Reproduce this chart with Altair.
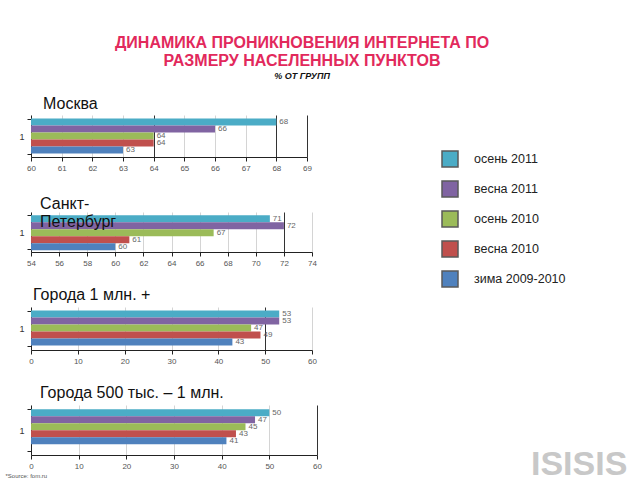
import altair as alt
import pandas as pd

series = ["осень 2011", "весна 2011", "осень 2010", "весна 2010", "зима 2009-2010"]
colors = ["#4BACC6", "#8064A2", "#9BBB59", "#C0504D", "#4F81BD"]

moscow = [68, 66, 64, 64, 63]
spb = [71, 72, 67, 61, 60]
city_1m = [53, 53, 47, 49, 43]
city_500k = [50, 47, 45, 43, 41]

panel_titles = [["Москва"], ["Санкт-", "Петербург"], ["Города 1 млн. +"], ["Города 500 тыс. – 1 млн."]]
domains = [[60, 69], [54, 74], [0, 60], [0, 60]]
tick_values = [list(range(60, 70, 1)), list(range(54, 75, 2)), list(range(0, 61, 10)), list(range(0, 61, 10))]
dark_grid = [[64, 68, 69], [72], [50], [60]]
values = [moscow, spb, city_1m, city_500k]

widths = [276, 281, 281, 286]
heights = [42, 40, 43, 50]
title_dx = [12, 9, 2, 9]
title_offset = [-1, -22, 0, 0]

FONT = "Liberation Sans"

panels = []
for i in range(4):
    df = pd.DataFrame({
        "series": series,
        "value": values[i],
        "grp": ["1"] * 5,
        "base": [domains[i][0]] * 5,
    })
    grid_test = " || ".join(f"datum.value == {v}" for v in dark_grid[i])
    x_axis = dict(
        values=tick_values[i], grid=True, gridColor={"condition": {"test": grid_test, "value": "#333333"}, "value": "#d4d4d4"},
        domainColor="#222", tickColor="#222", tickSize=4, labelFontSize=8, labelColor="#555",
        labelFont=FONT, labelPadding=3, title=None, labelOverlap=False, labelFlush=False,
    )
    if i == 3:
        x_axis.update(title="*Source: fom.ru", titleFontSize=6, titleFontWeight="normal", titleColor="#555",
                      titleAnchor="start", titleAlign="left", titleX=-26, titleY=17, titleBaseline="top", titleFont=FONT)
    x = alt.X("value:Q", scale=alt.Scale(domain=domains[i], nice=False, zero=False), axis=alt.Axis(**x_axis))
    y = alt.Y("grp:N", scale=alt.Scale(paddingOuter=0.1, paddingInner=0),
              axis=alt.Axis(title=None, tickBand="extent", domainColor="#222", tickColor="#222", tickSize=4,
                            labelFontSize=9, labelColor="#333", labelFont=FONT, labelPadding=3))
    yo = alt.YOffset("series:N", sort=series, scale=alt.Scale(paddingInner=0, paddingOuter=0))
    color = alt.Color("series:N", sort=series, scale=alt.Scale(domain=series, range=colors),
                      legend=alt.Legend(title=None, orient="none", legendX=410, legendY=35, symbolType="square",
                                        symbolSize=256, symbolStrokeColor="#5a5a5a", symbolStrokeWidth=1.5,
                                        symbolOpacity=1, labelFontSize=12.5, labelFont=FONT, labelColor="#222",
                                        rowPadding=8, labelOffset=15))
    bars = alt.Chart(df).mark_bar(opacity=1).encode(x=x, x2="base:Q", y=y, yOffset=yo, color=color)
    labels = alt.Chart(df).mark_text(align="left", dx=3, fontSize=8, color="#666", font=FONT).encode(
        x=x, y=y, yOffset=yo, text="value:Q")
    layers = [bars, labels]
    if i == 3:
        logo = alt.Chart(pd.DataFrame({"t": ["ISISIS"]})).mark_text(
            align="left", baseline="bottom", fontSize=34, fontWeight="bold", color="#c8c8c8", font=FONT
        ).encode(x=alt.value(500), y=alt.value(77), text="t:N")
        layers.append(logo)
    panel = alt.layer(*layers).properties(
        width=widths[i], height=heights[i],
        title=alt.TitleParams(text=panel_titles[i], anchor="start", frame="group", dx=title_dx[i],
                              offset=title_offset[i], fontSize=16, fontWeight="normal", font=FONT,
                              color="#111", lineHeight=18),
    )
    panels.append(panel)

chart = alt.vconcat(*panels, spacing=55, bounds="flush").properties(
    title=alt.TitleParams(
        text=["ДИНАМИКА ПРОНИКНОВЕНИЯ ИНТЕРНЕТА ПО", "РАЗМЕРУ НАСЕЛЕННЫХ ПУНКТОВ"],
        subtitle="% ОТ ГРУПП", anchor="start", align="center", frame="group", dx=271, offset=15,
        fontSize=16, fontWeight="bold", font=FONT, color="#E2295C", lineHeight=18,
        subtitleFontSize=9, subtitleFontStyle="italic", subtitleFontWeight="bold",
        subtitleColor="#111", subtitleFont=FONT, subtitlePadding=3,
    ),
    padding={"left": 5, "top": 35, "right": 1, "bottom": 1},
).configure_view(stroke=None).configure_concat(spacing=55)

chart.save("out.html", embed_options={"renderer": "svg", "actions": False})
